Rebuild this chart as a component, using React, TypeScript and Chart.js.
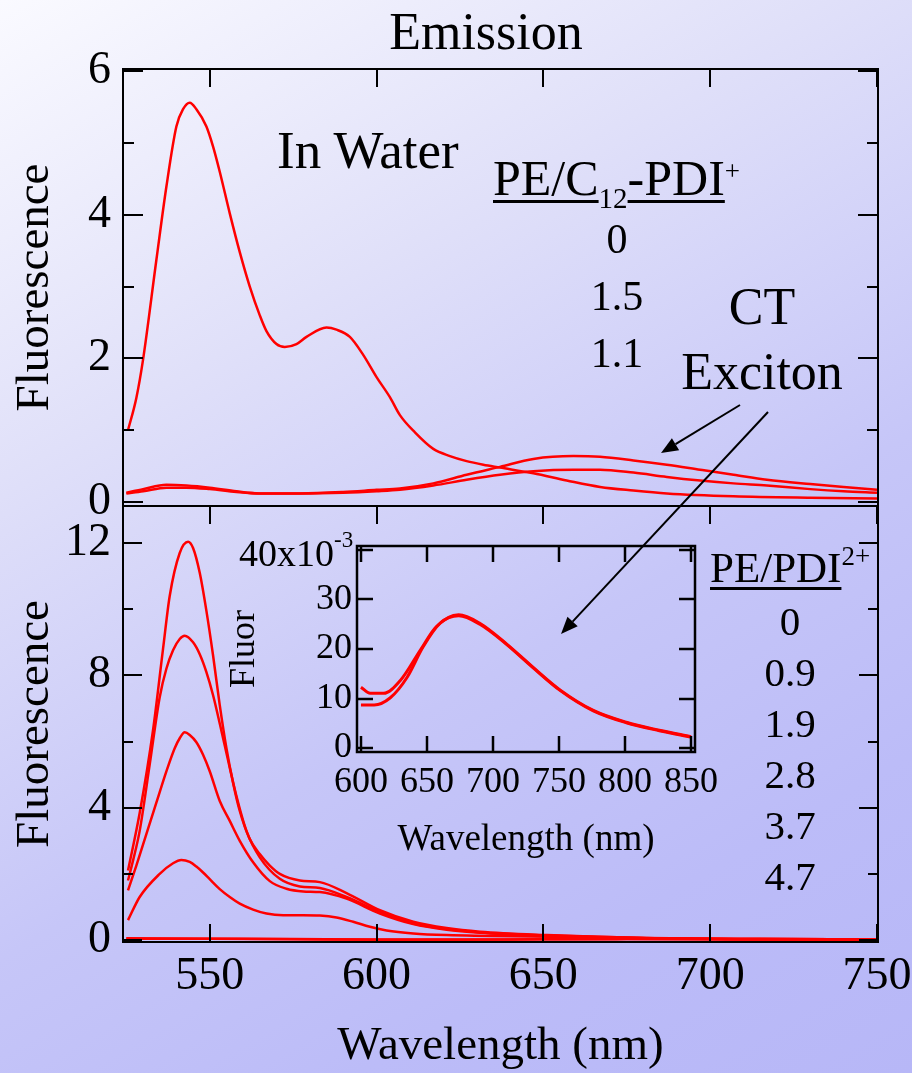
import React, { useEffect, useRef } from 'react';
import { Chart, registerables } from 'chart.js';

Chart.register(...registerables);

const SERIF = '"Liberation Serif", "Times New Roman", Times, serif';
const RED = '#ff0000';

// ---------------- Top panel (PE/C12-PDI+ in water) ----------------
const topWlRatio0 = [525.5, 528, 530, 534, 537, 540, 542, 544, 546, 549, 551, 553, 556, 559, 562, 565, 567, 570, 572.5, 576, 579, 585, 588, 592, 596, 600, 604, 607, 611.5, 617, 622, 627, 632, 637, 647, 657, 667, 677, 687, 707, 730, 750];
const topRatio0 = [1.0, 1.45, 1.98, 3.37, 4.39, 5.23, 5.47, 5.56, 5.47, 5.23, 4.95, 4.6, 4.02, 3.48, 3.0, 2.6, 2.38, 2.2, 2.16, 2.2, 2.3, 2.43, 2.4, 2.3, 2.05, 1.74, 1.46, 1.21, 0.97, 0.74, 0.64, 0.57, 0.52, 0.48, 0.4, 0.3, 0.21, 0.16, 0.12, 0.08, 0.06, 0.05];

const topWlCT = [525, 530, 537, 543, 550, 558, 565, 577, 590, 600, 607, 617, 627, 637, 647, 659, 667, 677, 687, 697, 707, 717, 730, 740, 750];
const topRatio15 = [0.13, 0.18, 0.24, 0.23, 0.2, 0.15, 0.12, 0.12, 0.14, 0.17, 0.19, 0.26, 0.38, 0.49, 0.6, 0.64, 0.63, 0.58, 0.52, 0.45, 0.38, 0.31, 0.25, 0.21, 0.17];
const topRatio11 = [0.12, 0.15, 0.2, 0.2, 0.18, 0.14, 0.12, 0.12, 0.13, 0.15, 0.17, 0.23, 0.31, 0.38, 0.43, 0.45, 0.45, 0.41, 0.35, 0.3, 0.26, 0.23, 0.18, 0.15, 0.13];

// ---------------- Bottom panel (PE/PDI2+) ----------------
const botWl0 = [525.5, 529, 533, 536, 538, 541, 543.5, 545, 547, 549, 551, 553, 555, 557, 559, 562, 565, 568, 571, 577, 583, 591, 601, 611, 621, 631, 651, 681, 715, 750];
const botRatio0 = [2.1, 3.84, 6.34, 8.8, 10.4, 11.7, 12.04, 11.85, 11.1, 9.95, 8.6, 7.1, 5.8, 4.75, 3.9, 3.05, 2.6, 2.25, 2.0, 1.8, 1.75, 1.42, 0.9, 0.55, 0.36, 0.25, 0.15, 0.06, 0.03, 0.02];

const botWl09 = [525.5, 527, 529, 532, 535, 537, 539, 541, 542.5, 545, 547, 549, 551, 554, 558, 561, 565, 571, 577, 583, 591, 601, 611, 621, 631, 651, 681, 715, 750];
const botRatio09 = [1.8, 2.4, 3.3, 5.3, 7.34, 8.2, 8.76, 9.1, 9.2, 9.0, 8.64, 8.1, 7.4, 6.1, 4.35, 3.3, 2.5, 1.85, 1.62, 1.57, 1.3, 0.85, 0.5, 0.33, 0.23, 0.14, 0.06, 0.03, 0.02];

const botWl19 = [525.5, 528, 531, 534, 537, 539.5, 541, 542.5, 544, 546, 548, 550, 553, 556, 559, 563, 568, 573, 578, 583, 591, 601, 611, 621, 631, 651, 681, 715, 750];
const botRatio19 = [1.5, 2.25, 3.2, 4.15, 5.1, 5.8, 6.1, 6.28, 6.2, 5.98, 5.6, 5.1, 4.2, 3.6, 3.0, 2.35, 1.78, 1.55, 1.47, 1.45, 1.25, 0.8, 0.48, 0.31, 0.22, 0.13, 0.05, 0.03, 0.02];

const botWl28 = [525.5, 529, 535, 539, 541.5, 544, 546, 548, 550, 553, 556, 559, 563, 567, 572, 578, 583, 588, 593, 598, 603, 611, 621, 651, 681, 715, 750];
const botRatio28 = [0.6, 1.3, 2.0, 2.32, 2.42, 2.36, 2.22, 2.04, 1.84, 1.54, 1.3, 1.1, 0.92, 0.8, 0.75, 0.75, 0.74, 0.68, 0.55, 0.4, 0.29, 0.2, 0.15, 0.1, 0.05, 0.03, 0.02];

const botWlFlat = [525, 550, 575, 600, 625, 650, 675, 700, 725, 750];
const botRatio37 = [0.05, 0.04, 0.03, 0.012, 0.013, 0.022, 0.027, 0.024, 0.016, 0.01];
const botRatio47 = [0.04, 0.035, 0.025, 0.009, 0.011, 0.021, 0.027, 0.024, 0.016, 0.01];

// ---------------- Inset (units of 1e-3) ----------------
const insetWlA = [600, 607, 617, 630, 645, 657, 674, 690, 710, 730, 751, 776, 801, 826, 850];
const insetA = [12.3, 11.05, 11.05, 13.7, 19.8, 24.5, 26.9, 25.2, 21.1, 16.4, 11.7, 7.6, 5.2, 3.6, 2.3];
const insetWlB = [600, 610, 622, 635, 647, 660, 674, 690, 710, 730, 751, 776, 801, 826, 850];
const insetB = [8.7, 8.7, 10.1, 14.3, 20.4, 25.2, 26.7, 25.0, 21.0, 16.3, 11.6, 7.5, 5.1, 3.5, 2.2];

// ---------------- Ticks ----------------
const mainXTicks = [550, 600, 650, 700, 750];
const topYTicks = [0, 1, 2, 3, 4, 5, 6];
const topYLabeled = [0, 2, 4, 6];
const botYTicks = [0, 2, 4, 6, 8, 10, 12];
const botYLabeled = [0, 4, 8, 12];
const insetXTicks = [600, 650, 700, 750, 800, 850];
const insetYTicks = [0, 10, 20, 30, 40];
const insetYLabeled = [0, 10, 20, 30];

// legend texts
const topLegendValues = ['0', '1.5', '1.1'];
const botLegendValues = ['0', '0.9', '1.9', '2.8', '3.7', '4.7'];

const frameTicksPlugin = {
  id: 'frameTicks',
  afterDatasetsDraw(chart: any, _args: any, opts: any) {
    const { ctx, chartArea: a } = chart;
    ctx.save();
    ctx.strokeStyle = '#000';
    ctx.lineWidth = opts.width || 2;
    ctx.lineCap = 'butt';
    for (const spec of opts.specs || []) {
      const scale = chart.scales[spec.scale];
      for (const t of scale.ticks) {
        const p = Math.round(scale.getPixelForValue(t.value));
        const isMajor = spec.majorValues ? spec.majorValues.includes(t.value) : true;
        const len = isMajor ? spec.major : spec.minor;
        for (const side of spec.sides) {
          ctx.beginPath();
          if (side === 'left') { ctx.moveTo(a.left, p); ctx.lineTo(a.left + len, p); }
          if (side === 'right') { ctx.moveTo(a.right, p); ctx.lineTo(a.right - len, p); }
          if (side === 'top') { ctx.moveTo(p, a.top); ctx.lineTo(p, a.top + len); }
          if (side === 'bottom') { ctx.moveTo(p, a.bottom); ctx.lineTo(p, a.bottom - len); }
          ctx.stroke();
        }
      }
    }
    ctx.strokeRect(a.left, a.top, a.right - a.left, a.bottom - a.top);
    ctx.restore();
  },
};

const arrowsPlugin = {
  id: 'arrows',
  afterDraw(chart: any, _args: any, opts: any) {
    const { ctx } = chart;
    ctx.save();
    ctx.strokeStyle = '#000';
    ctx.fillStyle = '#000';
    ctx.lineWidth = 2;
    for (const ar of opts.list || []) {
      const [x1, y1, x2, y2] = ar;
      const ang = Math.atan2(y2 - y1, x2 - x1);
      const hl = 17, hw = 7;
      const bx = x2 - hl * Math.cos(ang), by = y2 - hl * Math.sin(ang);
      ctx.beginPath();
      ctx.moveTo(x1, y1);
      ctx.lineTo(bx, by);
      ctx.stroke();
      ctx.beginPath();
      ctx.moveTo(x2, y2);
      ctx.lineTo(bx + hw * Math.sin(ang), by - hw * Math.cos(ang));
      ctx.lineTo(bx - hw * Math.sin(ang), by + hw * Math.cos(ang));
      ctx.closePath();
      ctx.fill();
    }
    ctx.restore();
  },
};

const line = (wl: number[], vals: number[], width = 2.5) => ({
  data: wl.map((x, i) => ({ x, y: vals[i] })),
  borderColor: RED,
  backgroundColor: RED,
  borderWidth: width,
  pointRadius: 0,
  fill: false,
  cubicInterpolationMode: 'monotone',
});

const axis = (o: any) => {
  const { min, max, ticks, labeled, showLabels, pad, fontSize, title, fit, horizontal } = o;
  return {
    type: 'linear',
    position: horizontal ? 'bottom' : 'left',
    min,
    max,
    afterBuildTicks: (s: any) => { s.ticks = ticks.map((v: number) => ({ value: v })); },
    afterFit: (s: any) => {
      if (horizontal) s.height = fit; else s.width = fit;
      s.paddingLeft = 0; s.paddingRight = 0; s.paddingTop = 0; s.paddingBottom = 0;
    },
    ticks: {
      display: showLabels,
      autoSkip: false,
      maxRotation: 0,
      minRotation: 0,
      padding: pad,
      color: '#000',
      font: { family: SERIF, size: fontSize, lineHeight: 1 },
      callback: (v: number) => (labeled.includes(v) ? String(v) : ''),
    },
    grid: { display: false, drawTicks: false },
    border: { display: false },
    title: title
      ? {
          display: true,
          text: title.text,
          color: '#000',
          font: { family: SERIF, size: title.size, lineHeight: 1 },
          padding: title.padding,
        }
      : { display: false },
  };
};

const T = ({ x, baseline, size, align = 'left', children, style }: any) => {
  const tr = align === 'center' ? 'translateX(-50%)' : align === 'right' ? 'translateX(-100%)' : 'none';
  return (
    <div
      style={{
        position: 'absolute',
        left: x,
        top: baseline - 0.8375 * size,
        fontFamily: SERIF,
        fontSize: size,
        lineHeight: 1,
        whiteSpace: 'nowrap',
        color: '#000',
        transform: tr,
        ...style,
      }}
    >
      {children}
    </div>
  );
};

const ul = { textDecoration: 'underline', textDecorationThickness: '2.5px', textUnderlineOffset: '5px' } as any;

export default function App() {
  const topRef = useRef<HTMLCanvasElement>(null);
  const botRef = useRef<HTMLCanvasElement>(null);
  const insRef = useRef<HTMLCanvasElement>(null);

  useEffect(() => {
    const common = { responsive: false, animation: false, devicePixelRatio: 1, events: [] as any[] };

    const top = new Chart(topRef.current as HTMLCanvasElement, {
      type: 'line',
      data: { datasets: [line(topWlRatio0, topRatio0), line(topWlCT, topRatio15), line(topWlCT, topRatio11)] as any },
      plugins: [frameTicksPlugin],
      options: {
        ...common,
        layout: { padding: { left: 0, top: 69, right: 34, bottom: 567 } },
        plugins: {
          legend: { display: false },
          tooltip: { enabled: false },
          frameTicks: {
            width: 2,
            specs: [
              { scale: 'y', sides: ['left', 'right'], major: 20, minor: 11, majorValues: topYLabeled },
              { scale: 'x', sides: ['top'], major: 18, minor: 18 },
            ],
          },
        } as any,
        scales: {
          x: axis({ min: 524, max: 750.3, ticks: mainXTicks, labeled: [], showLabels: false, pad: 0, fontSize: 46, fit: 0, horizontal: true }),
          y: axis({ min: -0.055, max: 6.03, ticks: topYTicks, labeled: topYLabeled, showLabels: true, pad: 12, fontSize: 46, fit: 123, title: { text: 'Fluorescence', size: 47, padding: { top: 12, bottom: 0 } } }),
        } as any,
      },
    });

    const bot = new Chart(botRef.current as HTMLCanvasElement, {
      type: 'line',
      data: {
        datasets: [
          line(botWl0, botRatio0), line(botWl09, botRatio09), line(botWl19, botRatio19),
          line(botWl28, botRatio28), line(botWlFlat, botRatio37), line(botWlFlat, botRatio47),
        ] as any,
      },
      plugins: [frameTicksPlugin],
      options: {
        ...common,
        layout: { padding: { left: 0, top: 506, right: 34, bottom: 0 } },
        plugins: {
          legend: { display: false },
          tooltip: { enabled: false },
          frameTicks: {
            width: 2,
            specs: [
              { scale: 'y', sides: ['left', 'right'], major: 19, minor: 10, majorValues: botYLabeled },
              { scale: 'x', sides: ['top', 'bottom'], major: 18, minor: 18 },
            ],
          },
        } as any,
        scales: {
          x: axis({ min: 524, max: 750.3, ticks: mainXTicks, labeled: mainXTicks, showLabels: true, pad: 12, fontSize: 46, fit: 131, horizontal: true, title: { text: 'Wavelength (nm)', size: 47, padding: { top: 0, bottom: 3 } } }),
          y: axis({ min: -0.06, max: 13.12, ticks: botYTicks, labeled: botYLabeled, showLabels: true, pad: 12, fontSize: 46, fit: 123, title: { text: 'Fluorescence', size: 47, padding: { top: 12, bottom: 0 } } }),
        } as any,
      },
    });

    const ins = new Chart(insRef.current as HTMLCanvasElement, {
      type: 'line',
      data: { datasets: [line(insetWlA, insetA, 3), line(insetWlB, insetB, 3)] as any },
      plugins: [frameTicksPlugin, arrowsPlugin],
      options: {
        ...common,
        layout: { padding: { left: 220, top: 546, right: 217, bottom: 214 } },
        plugins: {
          legend: { display: false },
          tooltip: { enabled: false },
          frameTicks: {
            width: 2.5,
            specs: [
              { scale: 'y', sides: ['left', 'right'], major: 16, minor: 16 },
              { scale: 'x', sides: ['top', 'bottom'], major: 16, minor: 16 },
            ],
          },
          arrows: {
            list: [
              [740, 405, 661, 453],
              [768, 412, 561, 634],
            ],
          },
        } as any,
        scales: {
          x: axis({ min: 597, max: 853, ticks: insetXTicks, labeled: insetXTicks, showLabels: true, pad: 13, fontSize: 36, fit: 107, horizontal: true, title: { text: 'Wavelength (nm)', size: 37, padding: { top: 0, bottom: 0 } } }),
          y: axis({ min: -0.8, max: 40.8, ticks: insetYTicks, labeled: insetYLabeled, showLabels: true, pad: 5, fontSize: 36, fit: 137, title: { text: 'Fluor', size: 36, padding: { top: 7, bottom: 0 } } }),
        } as any,
      },
    });

    return () => {
      top.destroy();
      bot.destroy();
      ins.destroy();
    };
  }, []);

  const cv: any = { position: 'absolute', left: 0, top: 0 };

  return (
    <div
      style={{
        position: 'fixed',
        left: 0,
        top: 0,
        width: 912,
        height: 1073,
        overflow: 'hidden',
        background: 'linear-gradient(150deg, #fafaff 0%, #e0e0f9 30%, #c6c6f8 60%, #bcbcf8 80%, #b7b7f7 100%)',
      }}
    >
      <canvas ref={botRef} width={912} height={1073} style={cv} />
      <canvas ref={topRef} width={912} height={1073} style={cv} />
      <canvas ref={insRef} width={912} height={1073} style={cv} />

      <T x={486} baseline={50} size={52} align="center">Emission</T>
      <T x={277} baseline={168} size={53}>In Water</T>

      <T x={493} baseline={195} size={50}>
        <span style={ul}>PE/C</span>
        <span style={{ fontSize: 29, position: 'relative', top: 13 }}>12</span>
        <span style={ul}>-PDI</span>
        <span style={{ fontSize: 27, position: 'relative', top: -15 }}>+</span>
      </T>
      {topLegendValues.map((v, i) => (
        <T key={v + i} x={617} baseline={253 + i * 57} size={42} align="center">{v}</T>
      ))}

      <T x={762} baseline={325} size={52} align="center">CT</T>
      <T x={762} baseline={390} size={52} align="center">Exciton</T>

      <T x={710} baseline={582} size={43}>
        <span style={ul}>PE/PDI</span>
        <span style={{ fontSize: 27, position: 'relative', top: -17 }}>2+</span>
      </T>
      {botLegendValues.map((v, i) => (
        <T key={v + i} x={790} baseline={635 + i * 51} size={41} align="center">{v}</T>
      ))}

      <T x={334} baseline={566} size={38} align="right">40x10</T>
      <T x={334} baseline={547} size={23}>-3</T>
    </div>
  );
}
